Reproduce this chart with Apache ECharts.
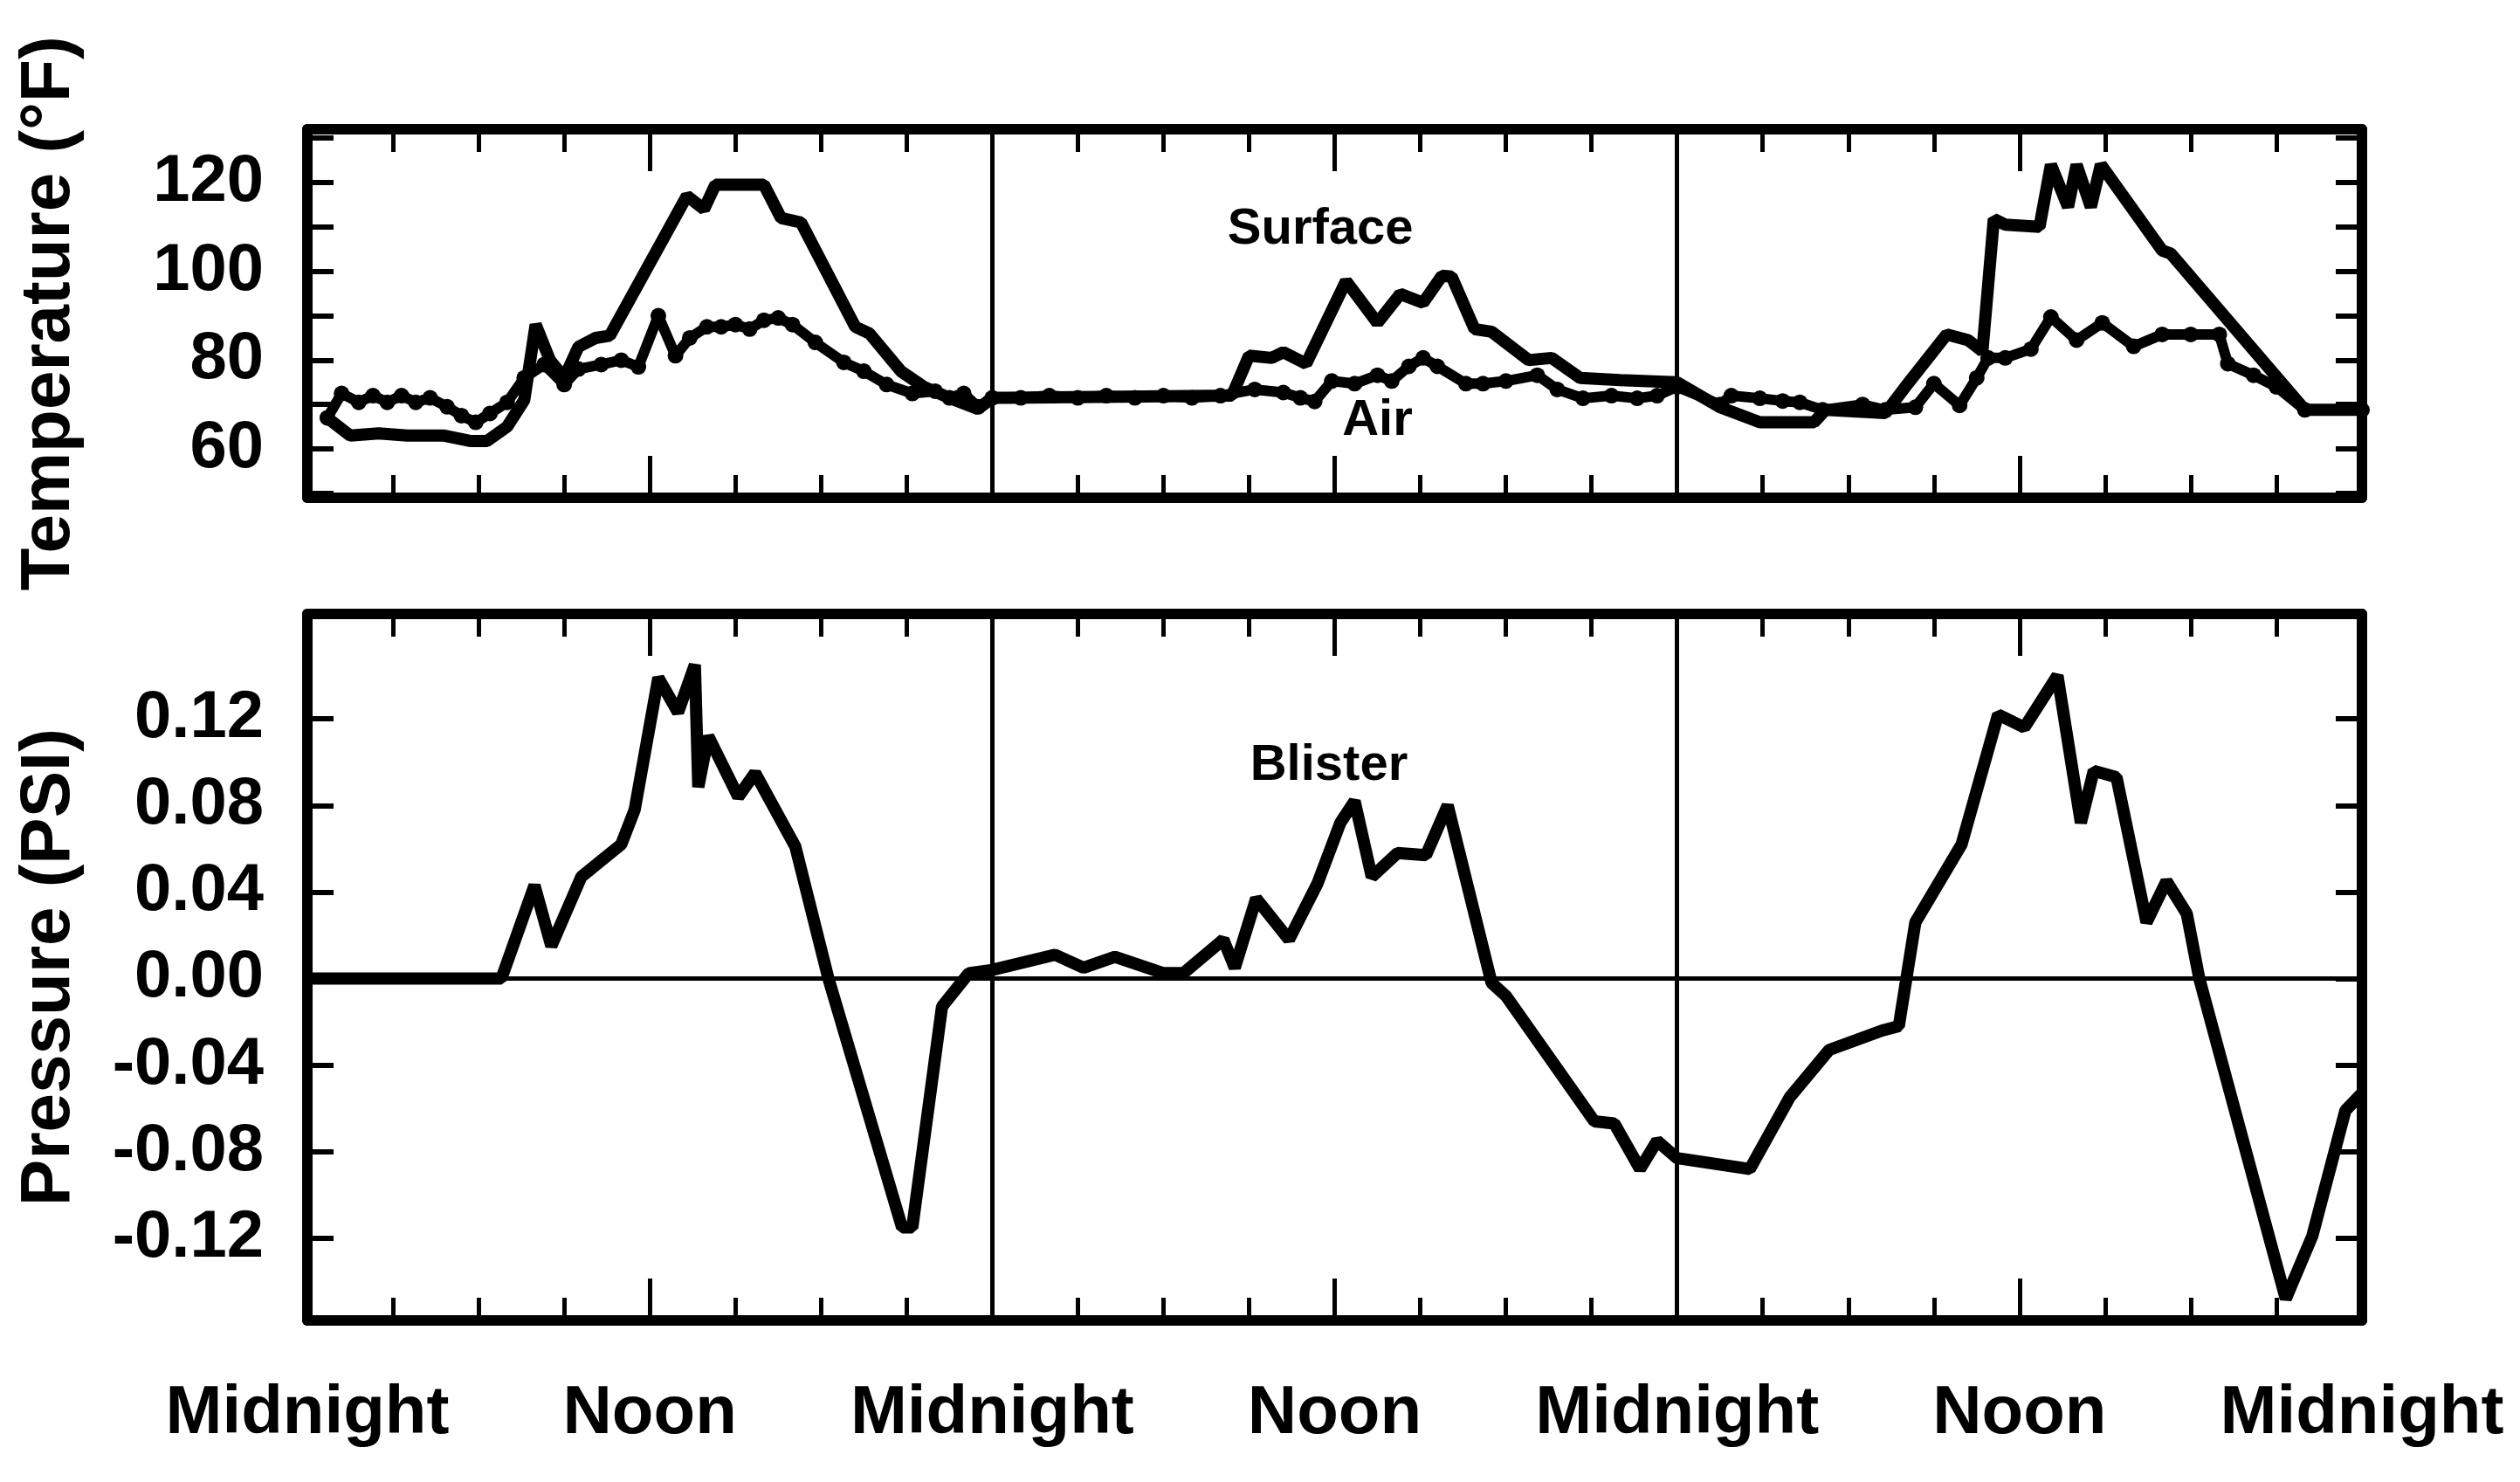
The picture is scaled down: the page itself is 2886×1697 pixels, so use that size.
<!DOCTYPE html>
<html>
<head>
<meta charset="utf-8">
<script src="https://cdn.jsdelivr.net/npm/echarts@6/dist/echarts.min.js"></script>
<style>
html,body{margin:0;padding:0;background:#fff;}
#chart{width:2886px;height:1697px;}
</style>
</head>
<body>
<div id="chart"></div>
<script>
// ---------- DATA (hours from first midnight) ----------
const surfaceHours = [0.7,1.5,2.5,3.5,4.8,5.7,6.3,7.0,7.6,8.0,8.5,9.0,9.5,10.1,10.6,13.3,13.9,14.3,16.0,16.6,17.3,19.2,19.7,20.8,21.6,22.5,23.5,24.0,
  24.5,32.4,33.0,33.8,34.2,35.0,36.4,37.5,38.3,39.1,39.76,40.1,40.9,41.5,42.8,43.6,44.6,46.0,48.0,
  49.5,50.9,52.8,53.2,55.3,56.0,57.45,58.2,58.7,59.1,59.5,60.7,61.1,61.7,62.0,62.5,62.85,65.0,65.3,70.0,72.0];
const surfaceTemps = [67,63,63.5,63,63,61.8,61.8,65,71,88,80,76,83,85,85.5,117,114,119.5,119.5,112,111,87.5,86,77.5,74,71.5,69,71.5,
  71.5,72,81,80.5,81.8,79.2,97.8,88.4,94.9,92.9,99,98.8,87,86.4,80,80.5,76,75.5,75,
  69.4,66,66,68.8,68.1,74,85.8,84.5,82,111.8,110.5,110,124,114.5,124,114.5,124,104.7,104,68.8,68.8];

const airHours = [0.7,1.2,1.8,2.3,2.8,3.3,3.8,4.3,4.9,5.4,5.9,6.4,7.0,7.6,8.3,9.0,9.5,10.3,11.0,11.6,12.3,12.9,13.4,14.0,14.5,15.0,15.5,16.0,16.5,17.0,17.8,18.8,19.5,20.3,21.2,22.0,22.5,23.0,23.5,24.0,
  25,26,27,28,29,30,31,32,33.2,34.2,34.8,35.3,35.9,36.7,37.5,38.0,38.6,39.1,39.6,40.6,41.2,42.0,43.1,43.8,44.7,45.7,46.6,47.3,48.0,
  49.5,49.9,50.9,51.7,52.3,53.1,54.5,55.3,56.35,57.0,57.9,58.5,58.9,59.5,60.4,61.1,62.0,62.9,64.0,65.0,66.0,67.0,67.3,68.2,69.0,70.0,72.0];
const airTemps = [67,72.5,70.5,72,70.5,72,70.5,71.5,69.5,67.5,66,68,70.5,76,79,74.5,78,79,80,78.5,90,81,85,87.5,87.5,88,87,89,89.5,88,84,79.5,77.5,74.5,72.5,73,71.5,72.5,69.5,71.5,
  71.5,72,71.5,72,71.5,72,71.5,72,73.4,72.7,71.5,70.7,75.3,74.7,76.6,75.3,78.6,80.5,78.6,74.7,74.7,75.3,76.6,73.4,71.4,72,71.4,72,74,
  70,72,71.4,70.8,70.5,68.8,70,68.8,69.4,74.7,69.8,76,80.5,80.5,82.5,89.7,84.5,88.4,83.1,85.8,85.8,85.8,79.2,76.6,74,68.8,68.8];

const blisterHours = [0,6.8,7.96,8.55,9.6,11.0,11.47,12.3,12.99,13.58,13.7,14.05,15.1,15.69,17.1,18.26,20.84,21.2,22.24,23.18,24.0,
  26.2,27.2,28.3,30.0,30.7,32.1,32.5,33.25,34.4,35.4,36.2,36.7,37.3,38.2,39.2,39.96,41.5,42.0,45.1,45.8,46.7,47.3,48.0,
  50.55,51.94,53.33,55.19,55.77,56.35,57.97,59.25,60.17,61.33,62.15,62.6,63.4,64.45,65.15,65.86,66.3,69.33,70.26,71.42,72.0];
const blisterPressure = [0,0,0.043,0.015,0.047,0.062,0.078,0.139,0.123,0.145,0.0885,0.112,0.084,0.095,0.061,0.0,-0.115,-0.115,-0.013,0.0025,0.004,
  0.011,0.005,0.010,0.0025,0.0025,0.018,0.005,0.037,0.018,0.044,0.072,0.082,0.047,0.058,0.057,0.080,-0.002,-0.008,-0.066,-0.067,-0.088,-0.075,-0.083,
  -0.088,-0.055,-0.033,-0.024,-0.022,0.026,0.062,0.122,0.116,0.140,0.072,0.096,0.093,0.026,0.045,0.030,0.0,-0.148,-0.119,-0.061,-0.053];

const xTickLabels = ['Midnight','Noon','Midnight','Noon','Midnight','Noon','Midnight'];
const tempTickLabels = [60,80,100,120];
const tempMinorTicks = [50,60,70,80,90,100,110,120,130];
const pressureTickLabels = [-0.12,-0.08,-0.04,0.00,0.04,0.08,0.12];
const dayDividers = [24,48];
const tempAnnotations = [['Surface',35.5,109.4],['Air',37.5,66.3]];
const pressureAnnotations = [['Blister',35.8,0.0983]];

// ---------- CHART ----------
const zip = (xs, ys) => xs.map((x, i) => [x, ys[i]]);
const FONT = "'Liberation Sans', Arial, Helvetica, sans-serif";
const BLACK = '#000';

function xAxisDef(grid, pos, showLabels) {
  return {
    type: 'value', gridIndex: grid, position: pos, min: 0, max: 72, interval: 12,
    axisLine: {show: true, onZero: false, lineStyle: {color: BLACK, width: 12}},
    axisTick: {show: true, inside: true, length: 48, lineStyle: {color: BLACK, width: 5}},
    minorTick: {show: true, splitNumber: 4, length: 26, lineStyle: {color: BLACK, width: 5}},
    splitLine: {show: false},
    axisLabel: showLabels ? {
      show: true, margin: 68, color: BLACK, fontFamily: FONT, fontWeight: 'bold', fontSize: 78,
      formatter: v => xTickLabels[Math.round(v / 12)]
    } : {show: false}
  };
}
function yAxisDef(grid, pos, min, max, ticks, labels, fmt, name, nameGap) {
  return {
    type: 'value', gridIndex: grid, position: pos, min: min, max: max,
    axisLine: {show: true, onZero: false, lineStyle: {color: BLACK, width: 12}},
    axisTick: {show: true, inside: true, length: 30, customValues: ticks, lineStyle: {color: BLACK, width: 6}},
    splitLine: {show: false},
    axisLabel: labels ? {
      show: true, customValues: labels, margin: 50, color: BLACK, fontFamily: FONT, fontWeight: 'bold', fontSize: 76,
      formatter: fmt
    } : {show: false},
    name: name || '', nameLocation: 'middle', nameRotate: 90, nameGap: nameGap || 0,
    nameTextStyle: {color: BLACK, fontFamily: FONT, fontWeight: 'bold', fontSize: 80}
  };
}
const dividerLine = (extra) => ({
  silent: true, symbol: ['none', 'none'], animation: false,
  label: {show: false},
  lineStyle: {color: BLACK, width: 5, type: 'solid', opacity: 1},
  emphasis: {disabled: true},
  data: dayDividers.map(d => ({xAxis: d})).concat(extra || [])
});
const annotationSeries = (list, xi, yi) => ({
  type: 'scatter', xAxisIndex: xi, yAxisIndex: yi, symbolSize: 1, silent: true,
  itemStyle: {color: 'rgba(0,0,0,0)', opacity: 1},
  label: {show: true, position: 'inside', formatter: p => p.data.name,
    color: BLACK, fontFamily: FONT, fontWeight: 'bold', fontSize: 58},
  data: list.map(a => ({name: a[0], value: [a[1], a[2]]}))
});

const chart = echarts.init(document.getElementById('chart'), null, {renderer: 'canvas'});
chart.setOption({
  animation: false,
  backgroundColor: '#fff',
  grid: [
    {left: 352, width: 2353, top: 148, height: 422},
    {left: 352, width: 2353, top: 703, height: 809}
  ],
  xAxis: [
    xAxisDef(0, 'bottom', false),
    xAxisDef(0, 'top', false),
    xAxisDef(1, 'bottom', true),
    xAxisDef(1, 'top', false)
  ],
  yAxis: [
    yAxisDef(0, 'left', 49, 132, tempMinorTicks, tempTickLabels, v => String(v), 'Temperature (°F)', 255),
    yAxisDef(0, 'right', 49, 132, tempMinorTicks, null),
    yAxisDef(1, 'left', -0.158, 0.1685, pressureTickLabels, pressureTickLabels, v => v.toFixed(2), 'Pressure (PSI)', 255),
    yAxisDef(1, 'right', -0.158, 0.1685, pressureTickLabels, null)
  ],
  series: [
    {
      name: 'Surface', type: 'line', xAxisIndex: 0, yAxisIndex: 0,
      data: zip(surfaceHours, surfaceTemps), showSymbol: false, symbol: 'none',
      lineStyle: {color: BLACK, width: 14}, z: 3,
      markLine: dividerLine()
    },
    {
      name: 'Air', type: 'line', xAxisIndex: 0, yAxisIndex: 0,
      data: zip(airHours, airTemps), symbol: 'circle', symbolSize: 18, showSymbol: true,
      itemStyle: {color: BLACK}, lineStyle: {color: BLACK, width: 12}, z: 3
    },
    {
      name: 'Blister', type: 'line', xAxisIndex: 2, yAxisIndex: 2,
      data: zip(blisterHours, blisterPressure), showSymbol: false, symbol: 'none',
      lineStyle: {color: BLACK, width: 14}, z: 3,
      markLine: dividerLine([{yAxis: 0}])
    },
    annotationSeries(tempAnnotations, 0, 0),
    annotationSeries(pressureAnnotations, 2, 2)
  ]
});
</script>
</body>
</html>
